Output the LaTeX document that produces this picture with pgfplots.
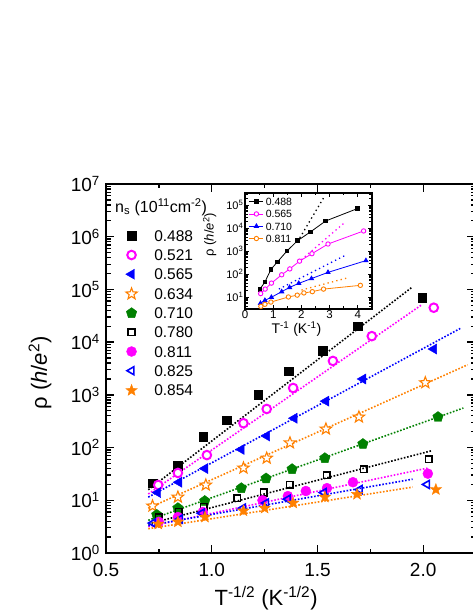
\documentclass[border=0pt]{standalone}
\usepackage{fontspec}
\setmainfont{Liberation Sans}
\usepackage{pgfplots}
\pgfplotsset{compat=1.18}
\definecolor{mag}{RGB}{255,0,255}
\definecolor{blu}{RGB}{0,0,255}
\definecolor{org}{RGB}{255,128,0}
\definecolor{grn}{RGB}{0,128,0}
% five-pointed star mark
\pgfdeclareplotmark{fstar}{%
  \pgfpathmoveto{\pgfpointpolar{90}{\pgfplotmarksize}}%
  \pgfpathlineto{\pgfpointpolar{126}{0.42\pgfplotmarksize}}%
  \pgfpathlineto{\pgfpointpolar{162}{\pgfplotmarksize}}%
  \pgfpathlineto{\pgfpointpolar{198}{0.42\pgfplotmarksize}}%
  \pgfpathlineto{\pgfpointpolar{234}{\pgfplotmarksize}}%
  \pgfpathlineto{\pgfpointpolar{270}{0.42\pgfplotmarksize}}%
  \pgfpathlineto{\pgfpointpolar{306}{\pgfplotmarksize}}%
  \pgfpathlineto{\pgfpointpolar{342}{0.42\pgfplotmarksize}}%
  \pgfpathlineto{\pgfpointpolar{18}{\pgfplotmarksize}}%
  \pgfpathlineto{\pgfpointpolar{54}{0.42\pgfplotmarksize}}%
  \pgfpathclose
  \pgfusepathqfillstroke}
\pgfplotsset{
  fit/.style={line width=1.6pt, dash pattern=on 1.6pt off 1.7pt, forget plot},
  ifit/.style={line width=1.3pt, dash pattern=on 1.3pt off 3.2pt, forget plot},
}
\begin{document}
\begin{tikzpicture}
\begin{axis}[
  at={(0pt,0pt)}, anchor=south west,
  scale only axis, width=369pt, height=369pt,
  xmin=0.5, xmax=2.245, ymode=log, ymin=1, ymax=1e7,
  xtick={0.5,1,1.5,2}, xticklabels={0.5,1.0,1.5,2.0}, minor x tick num=1,
  ytick={1,10,100,1000,10000,100000,1000000,10000000},
  minor ytick={2,3,4,5,6,7,8,9,2e1,3e1,4e1,5e1,6e1,7e1,8e1,9e1,2e2,3e2,4e2,5e2,6e2,7e2,8e2,9e2,
    2e3,3e3,4e3,5e3,6e3,7e3,8e3,9e3,2e4,3e4,4e4,5e4,6e4,7e4,8e4,9e4,2e5,3e5,4e5,5e5,6e5,7e5,8e5,9e5,
    2e6,3e6,4e6,5e6,6e6,7e6,8e6,9e6},
  yticklabels={10\textsuperscript{0},10\textsuperscript{1},10\textsuperscript{2},10\textsuperscript{3},10\textsuperscript{4},10\textsuperscript{5},10\textsuperscript{6},10\textsuperscript{7}},
  tick align=inside, major tick length=8pt, minor tick length=4.5pt,
  every tick/.style={black, line width=1.3pt},
  axis line style={line width=1.6pt},
  tick label style={font=\fontsize{19}{19}\selectfont, inner sep=1pt},
  xticklabel style={yshift=-9pt},
  yticklabel style={xshift=-5pt},
  xlabel={T\textsuperscript{-1/2} (K\textsuperscript{-1/2})},
  ylabel={ρ (\textit{h}/\textit{e}\textsuperscript{2})},
  every axis x label/.style={at={(rel axis cs:0.434,-0.122)},anchor=center,font=\fontsize{22}{22}\selectfont},
  every axis y label/.style={at={(rel axis cs:-0.179,0.488)},rotate=90,anchor=center,font=\fontsize{22}{22}\selectfont},
  legend cell align=left,
  legend style={at={(rel axis cs:0.053,0.875)}, anchor=north west, draw=none, fill=none,
    font=\fontsize{15.5}{15.5}\selectfont, inner sep=0pt, row sep=8.2pt,
    nodes={inner sep=0pt, text height=11pt, text depth=0pt},
    /tikz/every odd column/.append style={column sep=17pt}},
]
% fits
\addplot[fit, black] coordinates {(0.70,15.85) (1.95,112200)};
\addplot[fit, mag] coordinates {(0.70,13.18) (1.99,50119)};
\addplot[fit, blu] coordinates {(0.70,11.48) (2.18,18621)};
\addplot[fit, org] coordinates {(0.70,7.079) (2.21,3715)};
\addplot[fit, grn] coordinates {(0.70,4.169) (2.19,562.3)};
\addplot[fit, black] coordinates {(0.70,3.548) (2.04,87.1)};
\addplot[fit, mag] coordinates {(0.70,3.162) (2.02,40.74)};
\addplot[fit, blu] coordinates {(0.70,3.311) (1.95,25.12)};
\addplot[fit, org] coordinates {(0.70,2.884) (1.95,17.78)};
% data
\addplot[only marks, black, mark=square*, mark size=4.4pt] coordinates {
(0.722,21) (0.84,45) (0.96,160) (1.07,330) (1.22,1000) (1.365,2800) (1.525,6800) (1.69,20000) (1.995,69000)};
\addlegendentry{0.488}
\addplot[only marks, mag, mark=*, mark size=4.3pt, mark options={fill=white, line width=2pt}] coordinates {
(0.747,19.5) (0.84,33) (0.977,72) (1.15,290) (1.26,540) (1.385,1350) (1.573,4400) (1.757,13000) (2.05,45000)};
\addlegendentry{0.521}
\addplot[only marks, blu, mark=triangle*, mark size=5.8pt, mark options={rotate=90}] coordinates {
(0.745,14) (0.845,22) (0.968,40) (1.14,92) (1.26,166) (1.39,360) (1.54,760) (1.715,2000) (2.05,7400)};
\addlegendentry{0.565}
\addplot[only marks, org, mark=fstar, mark size=6pt, mark options={fill=white, line width=1.1pt}] coordinates {
(0.72,7.8) (0.84,11.5) (0.972,19.5) (1.15,41) (1.26,63) (1.37,123) (1.54,225) (1.696,380) (2.01,1700)};
\addlegendentry{0.634}
\addplot[only marks, grn, mark=pentagon*, mark size=5.5pt] coordinates {
(0.74,5.3) (0.84,7.1) (0.967,9.7) (1.14,17) (1.257,26) (1.38,39) (1.535,63) (1.715,117) (2.07,380)};
\addlegendentry{0.710}
\addplot[only marks, black, mark=square, mark size=3.3pt, mark options={fill=white, line width=1.6pt}] coordinates {
(0.75,4.8) (0.845,6.0) (0.963,7.5) (1.12,11) (1.247,14) (1.37,19.5) (1.545,30) (1.72,39) (2.027,60)};
\addlegendentry{0.780}
\addplot[only marks, mag, mark=*, mark size=5pt] coordinates {
(0.75,3.9) (0.84,4.8) (0.958,6.0) (1.24,10) (1.36,12) (1.445,15) (1.545,17) (1.668,22) (2.022,32)};
\addlegendentry{0.811}
\addplot[only marks, blu, mark=triangle, mark size=4.6pt, mark options={rotate=90, fill=white, line width=1.6pt}] coordinates {
(0.722,3.7) (0.85,4.4) (0.953,5.7) (1.148,7.1) (1.257,8.9) (1.36,10.5) (1.53,14) (1.70,16) (2.018,20)};
\addlegendentry{0.825}
\addplot[only marks, org, mark=fstar, mark size=6pt] coordinates {
(0.747,3.55) (0.84,3.9) (0.968,4.8) (1.15,6.3) (1.25,7.1) (1.385,8.9) (1.535,11.5) (1.687,13) (2.06,16)};
\addlegendentry{0.854}
\end{axis}
\node[anchor=west, inner sep=0pt, font=\fontsize{16}{16}\selectfont] at (9pt,346pt)
  {n\textsubscript{s} (10\textsuperscript{11}cm\textsuperscript{-2})};
% inset
\begin{axis}[
  at={(139pt,244pt)}, anchor=south west,
  scale only axis, width=127pt, height=116pt,
  axis background/.style={fill=white},
  xmin=0, xmax=4.5, ymode=log, ymin=3, ymax=3.3e5,
  xtick={0,1,2,3,4}, xticklabels={0,1,2,3,4}, minor x tick num=1,
  ytick={10,100,1000,10000,100000},
  minor ytick={4,5,6,7,8,9,2e1,3e1,4e1,5e1,6e1,7e1,8e1,9e1,2e2,3e2,4e2,5e2,6e2,7e2,8e2,9e2,
    2e3,3e3,4e3,5e3,6e3,7e3,8e3,9e3,2e4,3e4,4e4,5e4,6e4,7e4,8e4,9e4,2e5,3e5},
  yticklabels={10\textsuperscript{1},10\textsuperscript{2},10\textsuperscript{3},10\textsuperscript{4},10\textsuperscript{5}},
  tick align=inside, major tick length=4pt, minor tick length=2.5pt,
  every tick/.style={black, line width=0.8pt},
  axis line style={line width=1.2pt},
  xticklabel style={font=\fontsize{11.5}{11.5}\selectfont, inner sep=1.5pt},
  yticklabel style={font=\fontsize{11}{11}\selectfont, inner sep=1.5pt},
  xlabel={T\textsuperscript{-1} (K\textsuperscript{-1})},
  ylabel={ρ (\textit{h}/\textit{e}\textsuperscript{2})},
  every axis x label/.style={at={(rel axis cs:0.405,-0.17)},anchor=center,font=\fontsize{14}{14}\selectfont},
  every axis y label/.style={at={(rel axis cs:-0.278,0.64)},rotate=90,anchor=center,font=\fontsize{13}{13}\selectfont},
  legend cell align=left,
  legend image code/.code={\draw[mark repeat=2,mark phase=2,#1] plot coordinates {(0pt,0pt) (7pt,0pt) (14pt,0pt)};},
  legend style={at={(rel axis cs:0.03,0.96)}, anchor=north west, draw=none, fill=none,
    font=\fontsize{10.5}{10.5}\selectfont, inner sep=0pt, row sep=4.7pt,
    nodes={inner sep=0pt, text height=7.6pt, text depth=0pt},
    /tikz/every odd column/.append style={column sep=2pt}},
]
\addplot[ifit, black] coordinates {(1.86,2500) (2.81,229000)};
\addplot[ifit, mag] coordinates {(2.0,417) (3.5,15850)};
\addplot[ifit, blu] coordinates {(1.2,22) (3.6,690)};
\addplot[ifit, org] coordinates {(2.0,20) (3.6,66)};
\addplot[black, line width=0.8pt, mark=square*, mark size=1.8pt] coordinates {
(0.521,21) (0.706,45) (0.922,160) (1.145,330) (1.488,1000) (1.863,2800) (2.326,6800) (2.856,20000) (3.98,69000)};
\addlegendentry{0.488}
\addplot[mag, line width=0.8pt, mark=*, mark size=2.2pt, mark options={fill=white, line width=0.9pt}] coordinates {
(0.555,14) (0.714,22) (0.937,40) (1.30,92) (1.588,166) (1.932,360) (2.372,760) (2.941,2000) (4.203,7400)};
\addlegendentry{0.565}
\addplot[blu, line width=0.8pt, mark=triangle*, mark size=2.4pt] coordinates {
(0.548,5.3) (0.706,7.1) (0.935,9.7) (1.30,17) (1.580,26) (1.904,39) (2.356,63) (2.941,117) (4.285,380)};
\addlegendentry{0.710}
\addplot[org, line width=0.8pt, mark=*, mark size=2.2pt, mark options={fill=white, line width=0.9pt}] coordinates {
(0.5625,3.9) (0.706,4.8) (0.918,6.0) (1.538,10) (1.850,12) (2.088,15) (2.387,17) (2.782,22) (4.088,32)};
\addlegendentry{0.811}
\end{axis}
\pgfresetboundingbox
\path[use as bounding box] (-106pt,-60pt) rectangle (367pt,553pt);
\end{tikzpicture}
\end{document}
